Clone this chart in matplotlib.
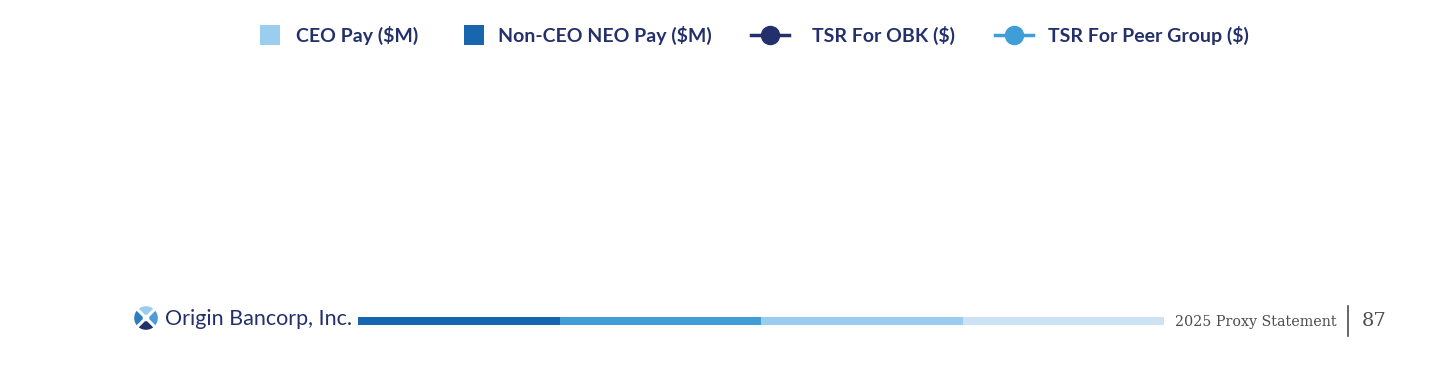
import matplotlib
matplotlib.use('Agg')
import matplotlib.pyplot as plt
from matplotlib.lines import Line2D
from matplotlib.patches import Rectangle, Wedge, Circle

# legend entries (the chart body itself is empty in this crop)
series_labels = ['CEO Pay ($M)', 'Non-CEO NEO Pay ($M)', 'TSR For OBK ($)', 'TSR For Peer Group ($)']
series_kinds  = ['bar', 'bar', 'line', 'line']
series_colors = ['#9ACDEE', '#1766AE', '#24306B', '#3F9ED8']

footer_company = 'Origin Bancorp, Inc.'
footer_doc     = '2025 Proxy Statement'
page_number    = '87'
stripe_colors  = ['#1565B0', '#3F9ED8', '#99CCEE', '#CBE3F5']

W, H = 1440, 376
NAVY = '#24306B'

fig = plt.figure(figsize=(W / 100, H / 100), dpi=100)
fig.patch.set_facecolor('white')

def fx(px):
    return px / W

def fy(py):
    return 1 - py / H

#_____________________LEGEND_______________________#

handle_x = [270, 474, 770, 1014]
text_x   = [296, 498, 812, 1048]
ly = 35

for lab, kind, col, hx, tx in zip(series_labels, series_kinds, series_colors, handle_x, text_x):
    if kind == 'bar':
        fig.add_artist(Rectangle((fx(hx - 10), fy(ly + 10)), fx(20), 20 / H,
                                 transform=fig.transFigure, facecolor=col, edgecolor='none'))
    else:
        fig.add_artist(Line2D([fx(hx - 19), fx(hx + 19)], [fy(ly), fy(ly)],
                              transform=fig.transFigure, color=col, lw=2.5))
        fig.add_artist(Line2D([fx(hx)], [fy(ly)], transform=fig.transFigure,
                              marker='o', markersize=13, color=col, lw=0))
    fig.text(fx(tx), fy(ly), lab, fontsize=14, fontweight='bold', family='Lato',
             color=NAVY, ha='left', va='center')

#_____________________FOOTER_______________________#

# logo: four quarters split by a white cross
cx, cy, r = 146, 318, 12
ax_logo = fig.add_axes([fx(cx - r - 1), fy(cy + r + 1), fx(2 * r + 2), (2 * r + 2) / H])
ax_logo.set_xlim(-1.1, 1.1)
ax_logo.set_ylim(-1.1, 1.1)
ax_logo.set_aspect('equal')
ax_logo.axis('off')
for (a1, a2), c in zip([(45, 135), (135, 225), (225, 315), (315, 405)],
                       ['#9ACDEE', '#2E7DC0', NAVY, '#4A9BD8']):
    ax_logo.add_patch(Wedge((0, 0), 1.0, a1, a2, facecolor=c, edgecolor='none'))
ax_logo.plot([-0.75, 0.75], [-0.75, 0.75], color='white', lw=2.2, solid_capstyle='butt')
ax_logo.plot([-0.75, 0.75], [0.75, -0.75], color='white', lw=2.2, solid_capstyle='butt')
ax_logo.add_patch(Circle((0, 0), 0.28, facecolor='white', edgecolor='none'))

fig.text(fx(165), fy(319), footer_company, fontsize=15.5, family='Lato',
         color=NAVY, ha='left', va='center')

x0, x1 = 358, 1164
seg = (x1 - x0) / len(stripe_colors)
for i, c in enumerate(stripe_colors):
    fig.add_artist(Rectangle((fx(x0 + i * seg), fy(325)), fx(seg), 8 / H,
                             transform=fig.transFigure, facecolor=c, edgecolor='none'))

fig.text(fx(1175), fy(322), footer_doc, fontsize=10.3, family='DejaVu Serif',
         color='#4D4D4D', ha='left', va='center')
fig.add_artist(Line2D([fx(1348), fx(1348)], [fy(306), fy(336)],
                      transform=fig.transFigure, color='#4D4D4D', lw=1.2))
fig.text(fx(1362), fy(321), page_number, fontsize=14, family='DejaVu Serif',
         color='#4D4D4D', ha='left', va='center')

fig.savefig('out.png', dpi=100, facecolor='white')
